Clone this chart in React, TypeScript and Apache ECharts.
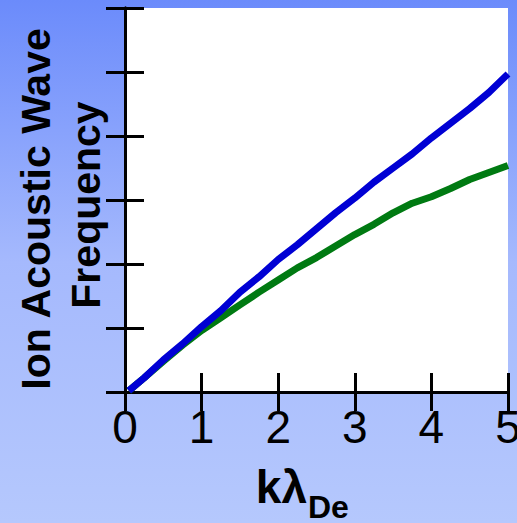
import React, { useEffect, useRef } from "react";
import * as echarts from "echarts";

const xValues = [0.05, 0.25, 0.5, 0.75, 1, 1.25, 1.5, 1.75, 2, 2.25, 2.5, 2.75, 3, 3.25, 3.5, 3.75, 4, 4.25, 4.5, 4.75, 5];
const blueValues = [0.02, 0.22, 0.5, 0.75, 1.02, 1.27, 1.56, 1.8, 2.07, 2.3, 2.55, 2.8, 3.03, 3.28, 3.5, 3.72, 3.97, 4.2, 4.43, 4.68, 4.97];
const greenValues = [0.02, 0.22, 0.48, 0.73, 0.96, 1.16, 1.36, 1.56, 1.75, 1.94, 2.1, 2.28, 2.46, 2.62, 2.8, 2.95, 3.05, 3.18, 3.32, 3.43, 3.54];
const xTickLabels = ["0", "1", "2", "3", "4", "5"];

export default function App() {
  const ref = useRef<HTMLDivElement>(null);
  useEffect(() => {
    document.body.style.margin = "0";
    const chart = echarts.init(ref.current!, null, { renderer: "svg" });
    const tickStyle = { show: true, inside: true, length: 19, lineStyle: { color: "#000", width: 3 } };
    const lineStyle = { show: true, lineStyle: { color: "#000", width: 3 } };
    chart.setOption({
      animation: false,
      backgroundColor: {
        type: "linear", x: 0, y: 0, x2: 0, y2: 1,
        colorStops: [
          { offset: 0, color: "#6b8bfb" },
          { offset: 0.5, color: "#a5b9fd" },
          { offset: 1, color: "#b5c8fd" },
        ],
      },
      grid: {
        left: 125, right: 9, top: 8, bottom: 131, show: true, backgroundColor: "#ffffff", borderWidth: 0,
        containLabel: false, outerBoundsMode: "none",
      },
      xAxis: [
        {
          type: "value", min: 0, max: 5, interval: 1, position: "bottom",
          axisLine: lineStyle, axisTick: tickStyle, splitLine: { show: false },
          axisLabel: {
            show: true, margin: 12, fontSize: 46, color: "#000", fontFamily: "Liberation Sans",
            hideOverlap: false,
            formatter: (v: number) => xTickLabels[Math.round(v)] ?? "",
          },
        },
        {
          type: "value", min: 0, max: 5, interval: 1, position: "top",
          axisLine: lineStyle, axisTick: tickStyle, splitLine: { show: false }, axisLabel: { show: false },
        },
      ],
      yAxis: [
        {
          type: "value", min: 0, max: 6, interval: 1, position: "left",
          axisLine: lineStyle, axisTick: tickStyle, splitLine: { show: false }, axisLabel: { show: false },
        },
        {
          type: "value", min: 0, max: 6, interval: 1, position: "right",
          axisLine: lineStyle, axisTick: tickStyle, splitLine: { show: false }, axisLabel: { show: false },
        },
      ],
      series: [
        {
          type: "line", name: "green", showSymbol: false, smooth: false,
          data: xValues.map((x, i) => [x, greenValues[i]]),
          lineStyle: { color: "#007a12", width: 7 }, z: 2,
        },
        {
          type: "line", name: "blue", showSymbol: false, smooth: false,
          data: xValues.map((x, i) => [x, blueValues[i]]),
          lineStyle: { color: "#0000d4", width: 7 }, z: 3,
        },
      ],
      graphic: [
        {
          type: "text", x: 36, y: 209, rotation: Math.PI / 2,
          style: { text: "Ion Acoustic Wave", fontSize: 41, fontWeight: "bold", fontFamily: "Liberation Sans", fill: "#000", align: "center", verticalAlign: "middle" },
        },
        {
          type: "text", x: 86, y: 205, rotation: Math.PI / 2,
          style: { text: "Frequency", fontSize: 41, fontWeight: "bold", fontFamily: "Liberation Sans", fill: "#000", align: "center", verticalAlign: "middle" },
        },
        {
          type: "text", x: 307, y: 510,
          style: { text: "kλ", fontSize: 46, fontWeight: "bold", fontFamily: "Liberation Sans", fill: "#000", align: "right", verticalAlign: "bottom" },
        },
        {
          type: "text", x: 308, y: 523,
          style: { text: "De", fontSize: 32, fontWeight: "bold", fontFamily: "Liberation Sans", fill: "#000", align: "left", verticalAlign: "bottom" },
        },
      ],
    });
    return () => chart.dispose();
  }, []);
  return <div ref={ref} style={{ position: "fixed", left: 0, top: 0, width: 517, height: 523 }} />;
}
